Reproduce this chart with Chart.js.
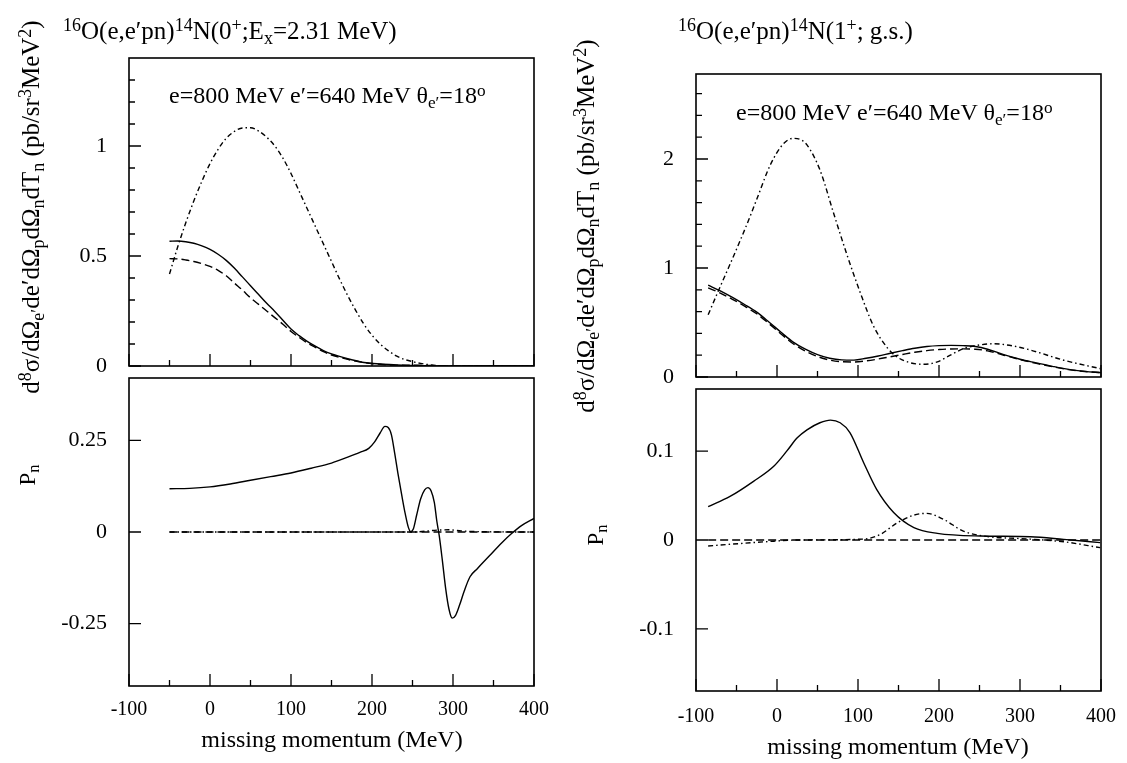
<!DOCTYPE html>
<html><head><meta charset="utf-8">
<script src="https://cdn.jsdelivr.net/npm/chart.js@4.4.0/dist/chart.umd.min.js"></script>
<style>
html,body{margin:0;padding:0;background:#fff;}
#wrap{position:relative;width:1127px;height:763px;overflow:hidden;font-family:"Liberation Serif","Times New Roman",serif;color:#000;}
canvas{position:absolute;left:0;top:0;}
.t{position:absolute;white-space:nowrap;line-height:1;}
.c{transform:translateX(-50%);}
.rot{transform:translate(-50%,-50%) rotate(-90deg);}
sup{font-size:72%;vertical-align:0.42em;line-height:0;}
sub{font-size:72%;vertical-align:-0.3em;line-height:0;}
</style></head>
<body><div id="wrap">
<canvas id="lt" width="1127" height="763"></canvas>
<canvas id="lb" width="1127" height="763"></canvas>
<canvas id="rt" width="1127" height="763"></canvas>
<canvas id="rb" width="1127" height="763"></canvas>

<div class="t" style="left:63px;top:18px;font-size:25px"><sup>16</sup>O(e,e′pn)<sup>14</sup>N(0<sup>+</sup>;E<sub>x</sub>=2.31 MeV)</div>
<div class="t" style="left:678px;top:18px;font-size:25px"><sup>16</sup>O(e,e′pn)<sup>14</sup>N(1<sup>+</sup>; g.s.)</div>
<div class="t" style="left:169px;top:83px;font-size:24px">e=800 MeV e′=640 MeV θ<sub>e′</sub>=18<sup>o</sup></div>
<div class="t" style="left:736px;top:100px;font-size:24px">e=800 MeV e′=640 MeV θ<sub>e′</sub>=18<sup>o</sup></div>
<div class="t rot" style="left:30px;top:207px;font-size:25px">d<sup>8</sup>σ/dΩ<sub>e′</sub>de′dΩ<sub>p</sub>dΩ<sub>n</sub>dT<sub>n</sub> (pb/sr<sup>3</sup>MeV<sup>2</sup>)</div>
<div class="t rot" style="left:585px;top:226px;font-size:25px">d<sup>8</sup>σ/dΩ<sub>e′</sub>de′dΩ<sub>p</sub>dΩ<sub>n</sub>dT<sub>n</sub> (pb/sr<sup>3</sup>MeV<sup>2</sup>)</div>
<div class="t rot" style="left:27px;top:475px;font-size:23px">P<sub>n</sub></div>
<div class="t rot" style="left:595px;top:535px;font-size:23px">P<sub>n</sub></div>
<div class="t c" style="left:332px;top:727px;font-size:24px">missing momentum (MeV)</div>
<div class="t c" style="left:898px;top:734px;font-size:24px">missing momentum (MeV)</div>
</div>
<script>
// ---------- tick values ----------
const xMajorTicks = [-100, 0, 100, 200, 300, 400];
const xMinorTicks = [-50, 50, 150, 250, 350];
const ltYMajor = [0, 0.5, 1];
const ltYMinor = [0.1, 0.2, 0.3, 0.4, 0.6, 0.7, 0.8, 0.9, 1.1, 1.2, 1.3];
const lbYMajor = [-0.25, 0, 0.25];
const rtYMajor = [0, 1, 2];
const rtYMinor = [0.2, 0.4, 0.6, 0.8, 1.2, 1.4, 1.6, 1.8, 2.2, 2.4, 2.6];
const rbYMajor = [-0.1, 0, 0.1];

// ---------- left top: cross section, 0+ state ----------
const ltX = [-50,-40,-30,-20,-10,0,10,20,30,40,50,60,70,80,90,100,110,120,130,140,150,170,190,210,230,250,275,300,350,400];
const ltSolid = [0.567,0.568,0.565,0.558,0.546,0.530,0.508,0.480,0.445,0.405,0.365,0.325,0.285,0.248,0.208,0.168,0.138,0.112,0.090,0.070,0.055,0.033,0.016,0.009,0.005,0.002,0.001,0,0,0];
const ltDashed = [0.488,0.487,0.482,0.475,0.465,0.453,0.435,0.410,0.377,0.345,0.310,0.280,0.250,0.220,0.190,0.157,0.130,0.105,0.085,0.065,0.050,0.030,0.016,0.008,0.004,0.004,0.002,0,0,0];
const ltDdX = [-50,-40,-30,-20,-10,0,10,20,30,40,50,60,70,80,90,100,110,120,130,140,150,160,170,180,190,200,210,220,230,240,250,260,270,280,300,350,400];
const ltDashDot = [0.418,0.540,0.650,0.750,0.840,0.920,0.985,1.035,1.066,1.082,1.083,1.068,1.040,1.000,0.945,0.875,0.795,0.715,0.635,0.555,0.475,0.395,0.320,0.252,0.190,0.140,0.100,0.070,0.046,0.030,0.020,0.012,0.006,0.002,0,0,0];

// ---------- left bottom: polarization, 0+ state ----------
const lbX = [-50,-25,0,25,50,75,100,125,150,170,185,196,203,210,216,220,224,228,232,237,241,245,248,251,255,260,265,269,273,277,280,283,287,291,295,299,303,308,314,321,330,345,360,372,385,400];
const lbSolid = [0.118,0.119,0.123,0.131,0.141,0.151,0.161,0.174,0.188,0.204,0.217,0.228,0.245,0.270,0.288,0.285,0.265,0.215,0.160,0.097,0.050,0.012,0.001,0.008,0.045,0.090,0.115,0.121,0.112,0.080,0.030,-0.010,-0.080,-0.155,-0.210,-0.235,-0.228,-0.200,-0.160,-0.122,-0.100,-0.065,-0.030,-0.005,0.018,0.037];
const lbDashX = [-50, 100, 250, 400];
const lbDashed = [0, 0, 0, 0];
const lbDdX = [-50, 250, 265, 280, 295, 310, 330, 400];
const lbDashDot = [0, 0, 0.002, 0.005, 0.006, 0.003, 0.001, 0];

// ---------- right top: cross section, 1+ g.s. ----------
const rtX = [-85,-70,-55,-40,-25,-10,5,20,35,50,65,80,95,110,125,140,155,170,185,200,215,230,245,260,280,300,320,340,360,380,400];
const rtSolid = [0.843,0.790,0.730,0.665,0.595,0.505,0.410,0.320,0.255,0.205,0.172,0.157,0.155,0.172,0.193,0.218,0.242,0.264,0.280,0.288,0.290,0.288,0.280,0.255,0.205,0.163,0.130,0.098,0.070,0.052,0.040];
const rtDashed = [0.818,0.770,0.713,0.650,0.580,0.490,0.395,0.305,0.238,0.188,0.155,0.140,0.138,0.148,0.165,0.186,0.207,0.227,0.242,0.252,0.257,0.258,0.255,0.240,0.200,0.160,0.125,0.095,0.068,0.050,0.040];
const rtDdX = [-85,-73,-60,-45,-35,-25,-8,8,20,30,37,53,70,86,103,119,136,148,165,181,198,214,230,247,267,292,313,354,399];
const rtDashDot = [0.571,0.780,1.000,1.260,1.440,1.630,1.950,2.140,2.190,2.175,2.130,1.900,1.500,1.130,0.770,0.470,0.270,0.185,0.130,0.117,0.139,0.200,0.260,0.290,0.305,0.284,0.247,0.154,0.077];

// ---------- right bottom: polarization, 1+ g.s. ----------
const rbX = [-85,-58,-29,-4,12,25,37,53,66,78,90,107,123,144,169,198,251,313,354,399];
const rbSolid = [0.0375,0.049,0.066,0.083,0.100,0.115,0.124,0.132,0.135,0.132,0.121,0.087,0.057,0.031,0.014,0.0075,0.0045,0.0037,0.0007,-0.003];
const rbDashX = [-85, 100, 250, 400];
const rbDashed = [0, 0, 0, 0];
const rbDdX = [-85,-15,25,107,127,148,169,185,206,230,255,313,354,399];
const rbDashDot = [-0.0067,-0.002,0,0.001,0.006,0.019,0.028,0.030,0.023,0.010,0.0045,0.001,-0.002,-0.0086];

const zip = (xs, ys) => xs.map((x, i) => ({x: x, y: ys[i]}));
const SOLID = [], DASH = [8, 4], DASHDOT = [5, 3, 1.5, 3];

function ds(xs, ys, dash) {
  return {data: zip(xs, ys), borderColor: '#000', borderWidth: 1.4, borderDash: dash,
          pointRadius: 0, fill: false, cubicInterpolationMode: 'monotone'};
}

const frameTicks = {
  id: 'frameTicks',
  afterDatasetsDraw(chart, args, o) {
    const ctx = chart.ctx, a = chart.chartArea, xs = chart.scales.x, ys = chart.scales.y;
    ctx.save();
    ctx.strokeStyle = '#000';
    ctx.lineWidth = 1.6;
    ctx.strokeRect(a.left, a.top, a.right - a.left, a.bottom - a.top);
    ctx.lineWidth = 1.3;
    ctx.beginPath();
    const yT = (vals, len) => vals.forEach(v => { const p = ys.getPixelForValue(v); ctx.moveTo(a.left, p); ctx.lineTo(a.left + len, p); });
    const xT = (vals, len) => vals.forEach(v => { const p = xs.getPixelForValue(v); ctx.moveTo(p, a.bottom); ctx.lineTo(p, a.bottom - len); });
    yT(o.yMajor || [], 12); yT(o.yMinor || [], 6);
    xT(xMajorTicks, 12); xT(xMinorTicks, 6);
    ctx.stroke();
    ctx.restore();
  }
};

function makeChart(id, box, yMin, yMax, yMajor, yMinor, xPad, datasets) {
  const showX = xPad > 0;
  const yW = 90, xH = showX ? 45 : 0;
  return new Chart(document.getElementById(id), {
    type: 'line',
    data: {datasets: datasets},
    plugins: [frameTicks],
    options: {
      responsive: false, animation: false, devicePixelRatio: 1,
      layout: {padding: {left: box.l - yW, top: box.t, right: 1127 - box.r, bottom: 763 - box.b - xH}},
      plugins: {legend: {display: false}, tooltip: {enabled: false},
                frameTicks: {yMajor: yMajor, yMinor: yMinor}},
      scales: {
        x: {type: 'linear', min: -100, max: 400, display: showX,
            grid: {display: false, drawTicks: false}, border: {display: false},
            afterBuildTicks: s => { s.ticks = xMajorTicks.map(v => ({value: v})); },
            afterFit: s => { s.height = xH; s.paddingLeft = 0; s.paddingRight = 0; },
            ticks: {padding: xPad, maxRotation: 0, autoSkip: false, color: '#000',
                    font: {family: 'Liberation Serif', size: 20}, callback: v => String(v)}},
        y: {type: 'linear', min: yMin, max: yMax,
            grid: {display: false, drawTicks: false}, border: {display: false},
            afterBuildTicks: s => { s.ticks = yMajor.map(v => ({value: v})); },
            afterFit: s => { s.width = yW; s.paddingTop = 0; s.paddingBottom = 0; },
            ticks: {padding: 22, color: '#000', autoSkip: false,
                    font: {family: 'Liberation Serif', size: 22}, callback: v => String(v)}}
      }
    }
  });
}

makeChart('lt', {l: 129, t: 58, r: 534, b: 366}, 0, 1.4, ltYMajor, ltYMinor, 0,
  [ds(ltX, ltSolid, SOLID), ds(ltX, ltDashed, DASH), ds(ltDdX, ltDashDot, DASHDOT)]);
makeChart('lb', {l: 129, t: 378, r: 534, b: 686}, -0.42, 0.42, lbYMajor, [], 12,
  [ds(lbX, lbSolid, SOLID), ds(lbDashX, lbDashed, DASH), ds(lbDdX, lbDashDot, DASHDOT)]);
makeChart('rt', {l: 696, t: 74, r: 1101, b: 377}, 0, 2.78, rtYMajor, rtYMinor, 0,
  [ds(rtX, rtSolid, SOLID), ds(rtX, rtDashed, DASH), ds(rtDdX, rtDashDot, DASHDOT)]);
makeChart('rb', {l: 696, t: 389, r: 1101, b: 691}, -0.17, 0.17, rbYMajor, [], 14,
  [ds(rbX, rbSolid, SOLID), ds(rbDashX, rbDashed, DASH), ds(rbDdX, rbDashDot, DASHDOT)]);
</script>
</body></html>
